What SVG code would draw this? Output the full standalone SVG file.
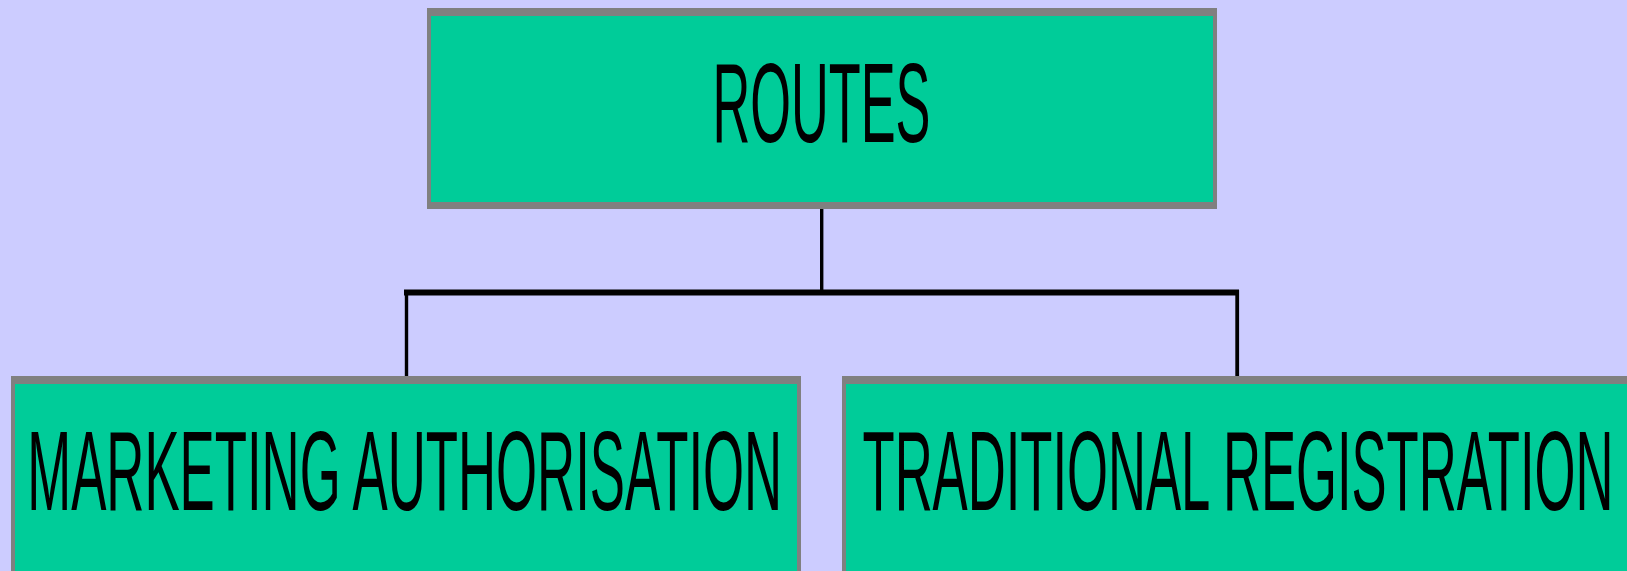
<svg xmlns="http://www.w3.org/2000/svg" width="1627" height="571" viewBox="0 0 1627 571">
  <style>
    .border { fill: #808080; }
    .fill { fill: #00CC99; }
    .label { font-family: "Liberation Sans", Arial, sans-serif; font-size: 113px; fill: #000000; text-anchor: middle; }
    .conn { stroke: #000000; fill: none; stroke-linecap: square; }
  </style>
  <rect x="0" y="0" width="1627" height="571" fill="#CCCCFF"/>
  <g id="connectors">
    <line class="conn" x1="821.7" y1="209" x2="821.7" y2="292" stroke-width="3.4" stroke-linecap="butt"/>
    <line class="conn" x1="407" y1="292.6" x2="1236" y2="292.6" stroke-width="6"/>
    <line class="conn" x1="406.5" y1="292" x2="406.5" y2="376" stroke-width="3.4" stroke-linecap="butt"/>
    <line class="conn" x1="1237.2" y1="292" x2="1237.2" y2="376" stroke-width="3.8" stroke-linecap="butt"/>
  </g>
  <g id="node-routes">
    <rect class="border" x="427" y="8" width="790" height="201"/>
    <rect class="fill" x="431" y="16" width="782" height="186"/>
    <text class="label" x="821.5" y="141.5" textLength="218" lengthAdjust="spacingAndGlyphs">ROUTES</text>
  </g>
  <g id="node-marketing">
    <rect class="border" x="11" y="376" width="790" height="200"/>
    <rect class="fill" x="15" y="384" width="782" height="200"/>
    <text class="label" x="404.7" y="510" textLength="755" lengthAdjust="spacingAndGlyphs">MARKETING AUTHORISATION</text>
  </g>
  <g id="node-traditional">
    <rect class="border" x="842" y="376" width="790" height="200"/>
    <rect class="fill" x="846" y="384" width="782" height="200"/>
    <text class="label" x="1238" y="510" textLength="751" lengthAdjust="spacingAndGlyphs">TRADITIONAL REGISTRATION</text>
  </g>
</svg>
